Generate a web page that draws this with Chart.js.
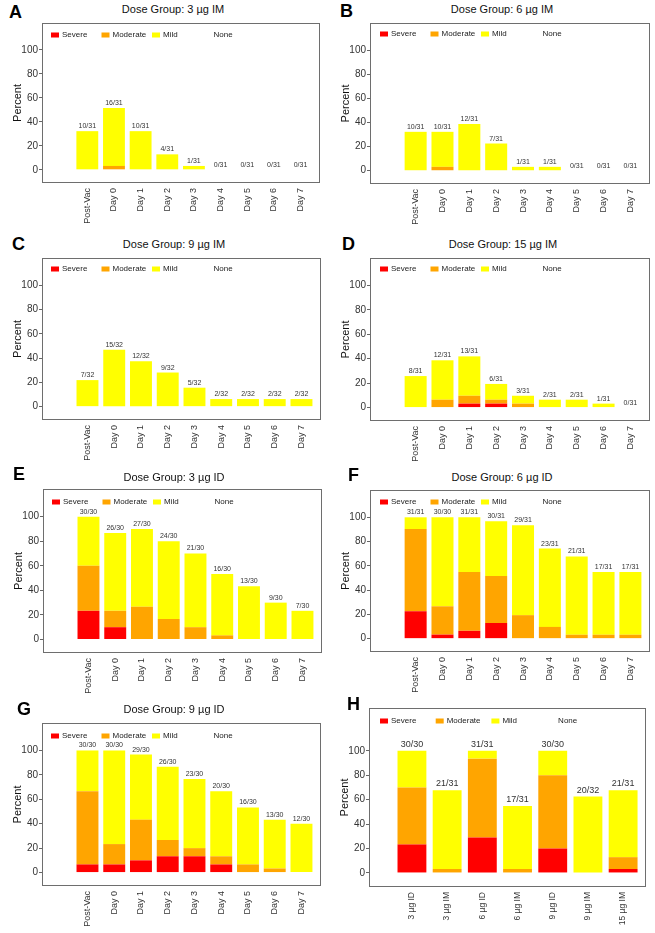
<!DOCTYPE html>
<html><head><meta charset="utf-8">
<script src="https://cdn.jsdelivr.net/npm/chart.js@4.4.1/dist/chart.umd.min.js"></script>
<style>
body{margin:0;background:#fff;width:655px;height:933px;position:relative;overflow:hidden;font-family:"Liberation Sans",Arial,sans-serif;}
.letter{position:absolute;font-weight:bold;font-size:18px;line-height:18px;color:#000;}
.title{position:absolute;font-size:11px;line-height:12px;color:#111;transform:translateX(-50%);white-space:nowrap;}
canvas{position:absolute;}
</style></head><body>
<script>
// ---------- data (counts of participants) ----------
const dayLabels = ['Post-Vac','Day 0','Day 1','Day 2','Day 3','Day 4','Day 5','Day 6','Day 7'];
const doseLabels = ['3 µg ID','3 µg IM','6 µg ID','6 µg IM','9 µg ID','9 µg IM','15 µg IM'];
const seriesNames = ['Severe','Moderate','Mild','None'];

const A_severe   = [0,0,0,0,0,0,0,0,0];
const A_moderate = [0,1,0,0,0,0,0,0,0];
const A_mild     = [10,15,10,4,1,0,0,0,0];
const A_n        = [31,31,31,31,31,31,31,31,31];

const B_severe   = [0,0,0,0,0,0,0,0,0];
const B_moderate = [0,1,0,0,0,0,0,0,0];
const B_mild     = [10,9,12,7,1,1,0,0,0];
const B_n        = [31,31,31,31,31,31,31,31,31];

const C_severe   = [0,0,0,0,0,0,0,0,0];
const C_moderate = [0,0,0,0,0,0,0,0,0];
const C_mild     = [7,15,12,9,5,2,2,2,2];
const C_n        = [32,32,32,32,32,32,32,32,32];

const D_severe   = [0,0,1,1,0,0,0,0,0];
const D_moderate = [0,2,2,1,1,0,0,0,0];
const D_mild     = [8,10,10,4,2,2,2,1,0];
const D_n        = [31,31,31,31,31,31,31,31,31];

const E_severe   = [7,3,0,0,0,0,0,0,0];
const E_moderate = [11,4,8,5,3,1,0,0,0];
const E_mild     = [12,19,19,19,18,15,13,9,7];
const E_n        = [30,30,30,30,30,30,30,30,30];

const F_severe   = [7,1,2,4,0,0,0,0,0];
const F_moderate = [21,7,15,12,6,3,1,1,1];
const F_mild     = [3,22,14,14,23,20,20,16,16];
const F_n        = [31,30,31,31,31,31,31,31,31];

const G_severe   = [2,2,3,4,4,2,0,0,0];
const G_moderate = [18,5,10,4,2,2,2,1,0];
const G_mild     = [10,23,16,18,17,16,14,12,12];
const G_n        = [30,30,30,30,30,30,30,30,30];

const H_severe   = [7,0,9,0,6,0,1];
const H_moderate = [14,1,20,1,18,0,3];
const H_mild     = [9,20,2,16,6,20,17];
const H_n        = [30,31,31,31,30,32,31];

// ---------- panel content ----------
const panels = [
  {key:'A', title:'Dose Group: 3 µg IM',  cats:dayLabels,  sev:A_severe, mod:A_moderate, mild:A_mild, n:A_n},
  {key:'B', title:'Dose Group: 6 µg IM',  cats:dayLabels,  sev:B_severe, mod:B_moderate, mild:B_mild, n:B_n},
  {key:'C', title:'Dose Group: 9 µg IM',  cats:dayLabels,  sev:C_severe, mod:C_moderate, mild:C_mild, n:C_n},
  {key:'D', title:'Dose Group: 15 µg IM', cats:dayLabels,  sev:D_severe, mod:D_moderate, mild:D_mild, n:D_n},
  {key:'E', title:'Dose Group: 3 µg ID',  cats:dayLabels,  sev:E_severe, mod:E_moderate, mild:E_mild, n:E_n},
  {key:'F', title:'Dose Group: 6 µg ID',  cats:dayLabels,  sev:F_severe, mod:F_moderate, mild:F_mild, n:F_n},
  {key:'G', title:'Dose Group: 9 µg ID',  cats:dayLabels,  sev:G_severe, mod:G_moderate, mild:G_mild, n:G_n},
  {key:'H', title:'',                     cats:doseLabels, sev:H_severe, mod:H_moderate, mild:H_mild, n:H_n}
];

// ---------- layout & style ----------
const colors = ['#FF0000','#FFA500','#FFFF00','#FFFFFF'];
const layout = {
  A:{letter:[9,3],   title:[173,3],   box:[42,23,278,160],  x:[-0.7,9.73], y:[-11,122.5], leg:[9,12,50.5],  cnt:7, xf:9},
  B:{letter:[340,2], title:[502,3],   box:[370,23,280,161], x:[-0.7,9.73], y:[-11,122.5], leg:[10,11,50.5], cnt:7, xf:9},
  C:{letter:[12,235],title:[174,238], box:[42,258,279,162], x:[-0.7,9.73], y:[-11,122.5], leg:[9,11,50.5],  cnt:7, xf:9},
  D:{letter:[342,235],title:[503,238],box:[370,258,280,163],x:[-0.7,9.73], y:[-11,122.5], leg:[10,11,50.5], cnt:7, xf:9},
  E:{letter:[13,465],title:[174,471], box:[43,489,279,164], x:[-0.7,9.73], y:[-11,122.5], leg:[9,13,50.5],  cnt:7, xf:9},
  F:{letter:[348,466],title:[502,471],box:[370,490,280,162],x:[-0.7,9.73], y:[-11,122.5], leg:[10,12,50.5], cnt:7, xf:9},
  G:{letter:[17,700],title:[174,703], box:[42,723,279,163], x:[-0.7,9.73], y:[-11,122.5], leg:[9,13,50.5],  cnt:7, xf:9},
  H:{letter:[347,695],title:null,     box:[369,708,277,179],x:[-0.22,7.65],y:[-11.5,135], leg:[11,13,55.7], cnt:9, xf:8.5}
};
const FONT = '"Liberation Sans", Arial, sans-serif';
const YW = 42, XH = 50;

const boxPlugin = {
  id:'box',
  afterDraw(chart){
    const {ctx, chartArea:a} = chart;
    ctx.save();
    ctx.strokeStyle = '#6e6e6e'; ctx.lineWidth = 1;
    ctx.strokeRect(a.left+0.5, a.top+0.5, a.right-a.left-1, a.bottom-a.top-1);
    ctx.restore();
  }
};
const legendPlugin = {
  id:'inLegend',
  afterDraw(chart, args, opts){
    const {ctx, chartArea:a} = chart;
    ctx.save();
    ctx.font = '8px ' + FONT;
    ctx.textBaseline = 'middle';
    seriesNames.forEach((name,k)=>{
      const x = a.left + opts.dx + k*opts.pitch;
      const y = a.top + opts.dy;
      ctx.fillStyle = colors[k];
      ctx.fillRect(x, y-2.5, 8, 5);
      ctx.fillStyle = '#222';
      ctx.fillText(name, x+11, y);
    });
    ctx.restore();
  }
};
const countPlugin = {
  id:'counts',
  afterDatasetsDraw(chart, args, opts){
    const {ctx, scales} = chart;
    const p = opts.panel;
    ctx.save();
    ctx.font = opts.size + 'px ' + FONT;
    ctx.fillStyle = '#333';
    ctx.textAlign = 'center';
    ctx.textBaseline = 'alphabetic';
    p.cats.forEach((c,i)=>{
      const tot = p.sev[i] + p.mod[i] + p.mild[i];
      const x = scales.x.getPixelForValue(i+1);
      const y = scales.y.getPixelForValue(tot/p.n[i]*100) - opts.gap;
      ctx.fillText(tot + '/' + p.n[i], x, y);
    });
    ctx.restore();
  }
};

panels.forEach(p=>{
  const L = layout[p.key];
  const let_ = document.createElement('div');
  let_.className='letter'; let_.textContent=p.key;
  let_.style.left=L.letter[0]+'px'; let_.style.top=L.letter[1]+'px';
  document.body.appendChild(let_);
  if (L.title){
    const t = document.createElement('div');
    t.className='title'; t.textContent=p.title;
    t.style.left=L.title[0]+'px'; t.style.top=L.title[1]+'px';
    document.body.appendChild(t);
  }
  const [bx,by,bw,bh] = L.box;
  const cv = document.createElement('canvas');
  const W = YW + bw + 2, H = bh + XH;
  cv.width = W; cv.height = H;
  cv.style.left=(bx-YW)+'px'; cv.style.top=by+'px';
  cv.style.width=W+'px'; cv.style.height=H+'px';
  document.body.appendChild(cv);

  const pct = arr => arr.map((c,i)=>({x:i+1, y:c/p.n[i]*100}));
  const ds = [p.sev, p.mod, p.mild].map((arr,k)=>({
    label: seriesNames[k], data: pct(arr), backgroundColor: colors[k],
    borderWidth:0, barPercentage:0.82, categoryPercentage:1
  }));

  new Chart(cv, {
    type:'bar',
    data:{datasets:ds},
    plugins:[boxPlugin, legendPlugin, countPlugin],
    options:{
      responsive:false, animation:false, devicePixelRatio:1,
      layout:{padding:{left:0,right:2,top:0,bottom:0}},
      plugins:{
        legend:{display:false}, tooltip:{enabled:false},
        inLegend:{dx:L.leg[0], dy:L.leg[1], pitch:L.leg[2]},
        counts:{panel:p, size:L.cnt, gap:(p.key==='H'?4:3)}
      },
      scales:{
        x:{
          type:'linear', stacked:true, offset:false, min:L.x[0], max:L.x[1],
          afterBuildTicks(s){ s.ticks = p.cats.map((c,i)=>({value:i+1})); },
          afterFit(s){ s.height = XH; s.paddingLeft = 0; s.paddingRight = 0; },
          ticks:{autoSkip:false, minRotation:90, maxRotation:90, padding:2,
                 font:{family:FONT, size:L.xf}, color:'#333',
                 callback:(v)=>p.cats[v-1]},
          grid:{display:true, drawOnChartArea:false, drawTicks:true, tickLength:3, color:'rgba(0,0,0,0)'},
          border:{display:false}
        },
        y:{
          type:'linear', stacked:true, min:L.y[0], max:L.y[1],
          afterBuildTicks(s){ s.ticks = [0,20,40,60,80,100].map(v=>({value:v})); },
          afterFit(s){ s.width = YW; s.paddingTop = 0; s.paddingBottom = 0; },
          ticks:{padding:1, font:{family:FONT, size:10}, color:'#333'},
          grid:{display:true, drawOnChartArea:false, drawTicks:true, tickLength:3, color:'#666'},
          border:{display:false},
          title:{display:true, text:'Percent', color:'#111', font:{family:FONT, size:11}, padding:{top:11,bottom:0}}
        }
      }
    }
  });
});
</script>
</body></html>
